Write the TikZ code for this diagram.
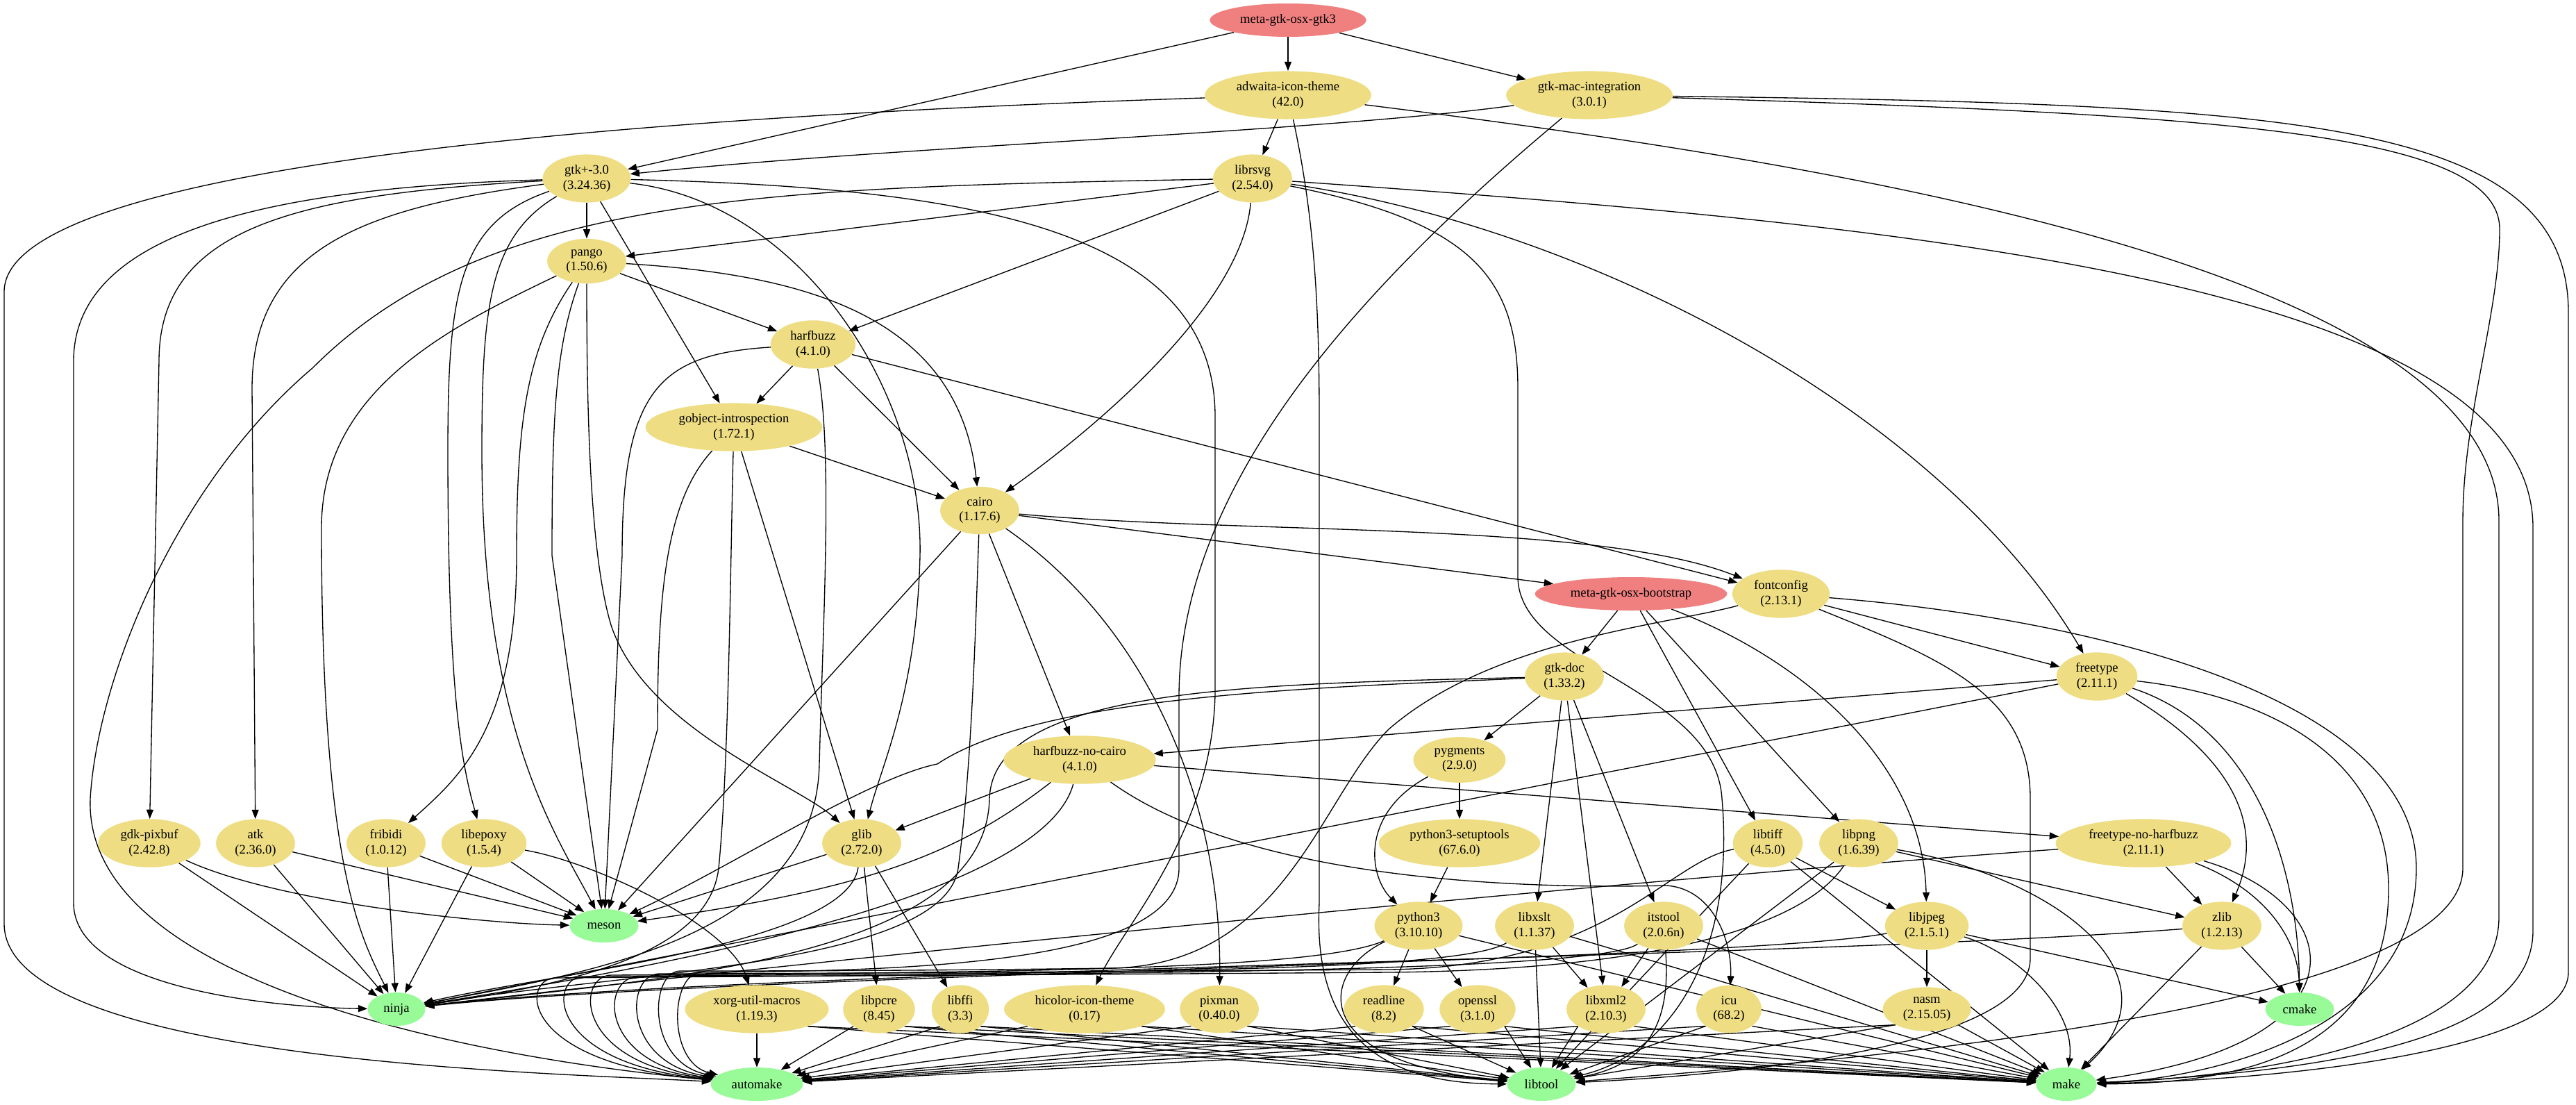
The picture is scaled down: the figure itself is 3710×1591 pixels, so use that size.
\documentclass[tikz,border=0pt]{standalone}
\usepackage{fontspec}
\setmainfont{Liberation Serif}
\usetikzlibrary{arrows.meta,shapes.geometric,backgrounds}
\definecolor{pkgyellow}{HTML}{EEDD82}
\definecolor{metared}{HTML}{F08080}
\definecolor{toolgreen}{HTML}{98FB98}

\begin{document}
\begin{tikzpicture}[
        x=0.75pt, y=-0.75pt,
        every node/.style={shape=ellipse, align=center, inner xsep=8pt, inner ysep=4pt, minimum width=54pt, minimum height=36pt, font=\fontsize{14}{16}\selectfont},
        pkg/.style={fill=pkgyellow},
        meta/.style={fill=metared},
        tool/.style={fill=toolgreen},
        dep/.style={draw=black, line width=1pt, -{Triangle[length=10pt,width=7.5pt]}}
    ]

        \useasboundingbox (0,0) rectangle (3710,1591);

        \node[meta] (metagtk) at (1855,29) {meta-gtk-osx-gtk3};
        \node[pkg] (adwaita) at (1855,137) {adwaita-icon-theme\\(42.0)};
        \node[pkg] (gtkmac) at (2289,137) {gtk-mac-integration\\(3.0.1)};
        \node[pkg] (gtk3) at (845,257) {gtk+-3.0\\(3.24.36)};
        \node[pkg] (librsvg) at (1804,257) {librsvg\\(2.54.0)};
        \node[pkg] (pango) at (845,376) {pango\\(1.50.6)};
        \node[pkg] (harfbuzz) at (1171,496) {harfbuzz\\(4.1.0)};
        \node[pkg] (gobject) at (1057,615) {gobject-introspection\\(1.72.1)};
        \node[pkg] (cairo) at (1411,735) {cairo\\(1.17.6)};
        \node[meta] (bootstrap) at (2349,855) {meta-gtk-osx-bootstrap};
        \node[pkg] (fontconfig) at (2565,855) {fontconfig\\(2.13.1)};
        \node[pkg] (gtkdoc) at (2253,974) {gtk-doc\\(1.33.2)};
        \node[pkg] (freetype) at (3020,974) {freetype\\(2.11.1)};
        \node[pkg] (harfbuzznc) at (1555,1094) {harfbuzz-no-cairo\\(4.1.0)};
        \node[pkg] (pygments) at (2102,1094) {pygments\\(2.9.0)};
        \node[pkg] (gdkpixbuf) at (215,1214) {gdk-pixbuf\\(2.42.8)};
        \node[pkg] (atk) at (368,1214) {atk\\(2.36.0)};
        \node[pkg] (fribidi) at (556,1214) {fribidi\\(1.0.12)};
        \node[pkg] (libepoxy) at (697,1214) {libepoxy\\(1.5.4)};
        \node[pkg] (glib) at (1241,1214) {glib\\(2.72.0)};
        \node[pkg] (setuptools) at (2102,1214) {python3-setuptools\\(67.6.0)};
        \node[pkg] (libtiff) at (2546,1214) {libtiff\\(4.5.0)};
        \node[pkg] (libpng) at (2677,1214) {libpng\\(1.6.39)};
        \node[pkg] (freetypenh) at (3087,1214) {freetype-no-harfbuzz\\(2.11.1)};
        \node[tool] (meson) at (870,1333) {meson};
        \node[pkg] (python3) at (2043,1333) {python3\\(3.10.10)};
        \node[pkg] (libxslt) at (2210,1333) {libxslt\\(1.1.37)};
        \node[pkg] (itstool) at (2396,1333) {itstool\\(2.0.6n)};
        \node[pkg] (libjpeg) at (2775,1333) {libjpeg\\(2.1.5.1)};
        \node[pkg] (zlib) at (3200,1333) {zlib\\(1.2.13)};
        \node[tool] (ninja) at (571,1453) {ninja};
        \node[pkg] (xorg) at (1090,1453) {xorg-util-macros\\(1.19.3)};
        \node[pkg] (libpcre) at (1266,1453) {libpcre\\(8.45)};
        \node[pkg] (libffi) at (1383,1453) {libffi\\(3.3)};
        \node[pkg] (hicolor) at (1562,1453) {hicolor-icon-theme\\(0.17)};
        \node[pkg] (pixman) at (1756,1453) {pixman\\(0.40.0)};
        \node[pkg] (readline) at (1993,1453) {readline\\(8.2)};
        \node[pkg] (openssl) at (2128,1453) {openssl\\(3.1.0)};
        \node[pkg] (libxml2) at (2313,1453) {libxml2\\(2.10.3)};
        \node[pkg] (icu) at (2490,1453) {icu\\(68.2)};
        \node[pkg] (nasm) at (2775,1453) {nasm\\(2.15.05)};
        \node[tool] (cmake) at (3312,1453) {cmake};
        \node[tool] (automake) at (1090,1561) {automake};
        \node[tool] (libtool) at (2220,1561) {libtool};
        \node[tool] (make) at (2976,1561) {make};

        \begin{scope}[on background layer]
        \fill[white] (0,0) rectangle (3710,1591);

        \draw[dep] (metagtk) -- (adwaita);
        \draw[dep] (metagtk) -- (gtkmac);
        \draw[dep] (metagtk) -- (gtk3);

        \draw[dep] (adwaita) -- (librsvg);
        \draw[dep] (adwaita) .. controls (700,175) and (6,260) .. (6,420) -- (6,1330) .. controls (6,1530) and (800,1545) .. (automake);
        \draw[dep] (adwaita) .. controls (1890,300) and (1900,420) .. (1900,600) -- (1900,1300) .. controls (1890,1500) and (2000,1560) .. (libtool);
        \draw[dep] (adwaita) .. controls (2600,230) and (3599,380) .. (3599,750) -- (3599,1320) .. controls (3599,1500) and (3250,1550) .. (make);

        \draw[dep] (gtkmac) .. controls (1900,190) and (1300,210) .. (gtk3);
        \draw[dep] (gtkmac) .. controls (1950,420) and (1700,700) .. (1698,1000) -- (1698,1250) .. controls (1698,1390) and (1300,1398) .. (1010,1400) .. controls (965,1400) and (960,1530) .. (automake);
        \draw[dep] (gtkmac) .. controls (3200,165) and (3600,190) .. (3600,330) .. controls (3600,450) and (3547,600) .. (3547,750) -- (3547,1250) .. controls (3547,1450) and (2700,1525) .. (libtool);
        \draw[dep] (gtkmac) .. controls (3300,150) and (3699,170) .. (3699,450) -- (3699,1400) .. controls (3699,1510) and (3300,1555) .. (make);

        \draw[dep] (gtk3) -- (pango);
        \draw[dep] (gtk3) -- (gobject);
        \draw[dep] (gtk3) .. controls (1150,290) and (1330,560) .. (1325,800) .. controls (1320,1000) and (1270,1100) .. (glib);
        \draw[dep] (gtk3) .. controls (420,280) and (229,330) .. (229,520) -- (gdkpixbuf);
        \draw[dep] (gtk3) .. controls (520,300) and (363,360) .. (363,560) -- (atk);
        \draw[dep] (gtk3) .. controls (660,320) and (645,420) .. (645,650) .. controls (645,1000) and (665,1100) .. (libepoxy);
        \draw[dep] (gtk3) .. controls (705,340) and (694,440) .. (694,650) .. controls (694,1050) and (800,1200) .. (meson);
        \draw[dep] (gtk3) .. controls (1400,270) and (1750,330) .. (1750,600) -- (1750,1000) .. controls (1745,1200) and (1620,1330) .. (hicolor);
        \draw[dep] (gtk3) .. controls (400,270) and (106,330) .. (106,520) -- (106,1300) .. controls (106,1420) and (380,1450) .. (ninja);

        \draw[dep] (librsvg) -- (pango);
        \draw[dep] (librsvg) -- (harfbuzz);
        \draw[dep] (librsvg) .. controls (1790,430) and (1600,600) .. (cairo);
        \draw[dep] (librsvg) .. controls (2300,330) and (2800,600) .. (freetype);
        \draw[dep] (librsvg) .. controls (1100,270) and (700,280) .. (450,530) .. controls (250,700) and (140,980) .. (130,1150) .. controls (120,1420) and (700,1525) .. (automake);
        \draw[dep] (librsvg) .. controls (2120,320) and (2186,400) .. (2186,560) -- (2186,830) .. controls (2186,960) and (2470,990) .. (2480,1150) .. controls (2500,1380) and (2400,1520) .. (libtool);
        \draw[dep] (librsvg) .. controls (2700,320) and (3648,400) .. (3648,760) -- (3648,1340) .. controls (3648,1510) and (3300,1545) .. (make);

        \draw[dep] (pango) -- (harfbuzz);
        \draw[dep] (pango) .. controls (1150,395) and (1380,450) .. (cairo);
        \draw[dep] (pango) .. controls (650,470) and (463,560) .. (463,760) .. controls (463,1250) and (520,1350) .. (ninja);
        \draw[dep] (pango) .. controls (760,500) and (744,600) .. (744,800) .. controls (744,1050) and (660,1120) .. (fribidi);
        \draw[dep] (pango) .. controls (800,500) and (795,600) .. (795,800) -- (meson);
        \draw[dep] (pango) .. controls (845,600) and (850,800) .. (880,900) .. controls (930,1050) and (1150,1130) .. (glib);

        \draw[dep] (harfbuzz) -- (gobject);
        \draw[dep] (harfbuzz) -- (cairo);
        \draw[dep] (harfbuzz) -- (fontconfig);
        \draw[dep] (harfbuzz) .. controls (950,510) and (896,560) .. (896,800) -- (meson);
        \draw[dep] (harfbuzz) .. controls (1200,650) and (1185,900) .. (1180,1100) .. controls (1175,1350) and (850,1400) .. (ninja);

        \draw[dep] (gobject) -- (cairo);
        \draw[dep] (gobject) -- (glib);
        \draw[dep] (gobject) .. controls (960,720) and (947,850) .. (947,1050) -- (meson);
        \draw[dep] (gobject) .. controls (1052,800) and (1050,1100) .. (1035,1250) .. controls (1020,1380) and (800,1420) .. (ninja);

        \draw[dep] (cairo) -- (harfbuzznc);
        \draw[dep] (cairo) -- (meson);
        \draw[dep] (cairo) -- (bootstrap);
        \draw[dep] (cairo) .. controls (1800,770) and (2300,750) .. (fontconfig);
        \draw[dep] (cairo) .. controls (1650,900) and (1760,1150) .. (pixman);
        \draw[dep] (cairo) .. controls (1405,900) and (1400,1100) .. (1380,1250) .. controls (1360,1390) and (900,1400) .. (ninja);

        \draw[dep] (bootstrap) -- (gtkdoc);
        \draw[dep] (bootstrap) -- (libtiff);
        \draw[dep] (bootstrap) -- (libpng);
        \draw[dep] (bootstrap) .. controls (2600,950) and (2770,1100) .. (libjpeg);

        \draw[dep] (fontconfig) -- (freetype);
        \draw[dep] (fontconfig) .. controls (2400,900) and (2150,920) .. (2000,1050) .. controls (1900,1150) and (1850,1390) .. (1600,1394) .. controls (1300,1398) and (1100,1398) .. (980,1398) .. controls (935,1398) and (930,1530) .. (automake);
        \draw[dep] (fontconfig) .. controls (2800,950) and (2924,1000) .. (2924,1150) -- (2924,1380) .. controls (2924,1500) and (2550,1545) .. (libtool);
        \draw[dep] (fontconfig) .. controls (3000,890) and (3480,1000) .. (3480,1250) .. controls (3480,1500) and (3150,1555) .. (make);

        \draw[dep] (gtkdoc) -- (pygments);
        \draw[dep] (gtkdoc) -- (libxslt);
        \draw[dep] (gtkdoc) -- (libxml2);
        \draw[dep] (gtkdoc) -- (itstool);
        \draw[dep] (gtkdoc) .. controls (1900,990) and (1500,1000) .. (1350,1100) .. controls (1250,1120) and (1050,1250) .. (meson);
        \draw[dep] (gtkdoc) .. controls (1800,985) and (1430,990) .. (1425,1150) .. controls (1420,1380) and (950,1410) .. (ninja);

        \draw[dep] (freetype) -- (harfbuzznc);
        \draw[dep] (freetype) .. controls (3150,1050) and (3280,1150) .. (zlib);
        \draw[dep] (freetype) .. controls (3250,1050) and (3310,1250) .. (cmake);
        \draw[dep] (freetype) .. controls (3250,1000) and (3440,1080) .. (3440,1280) .. controls (3440,1530) and (3200,1560) .. (make);
        \draw[dep] (freetype) -- (ninja);

        \draw[dep] (harfbuzznc) -- (glib);
        \draw[dep] (harfbuzznc) -- (freetypenh);
        \draw[dep] (harfbuzznc) .. controls (1800,1270) and (2200,1280) .. (2400,1275) .. controls (2470,1280) and (2495,1360) .. (icu);
        \draw[dep] (harfbuzznc) .. controls (1380,1230) and (1250,1280) .. (meson);
        \draw[dep] (harfbuzznc) .. controls (1500,1300) and (900,1400) .. (ninja);

        \draw[dep] (pygments) -- (setuptools);
        \draw[dep] (pygments) .. controls (1960,1170) and (1970,1260) .. (python3);
        \draw[dep] (setuptools) -- (python3);

        \draw[dep] (glib) -- (libpcre);
        \draw[dep] (glib) -- (libffi);
        \draw[dep] (glib) -- (meson);
        \draw[dep] (glib) .. controls (1220,1360) and (800,1400) .. (ninja);

        \draw[dep] (gdkpixbuf) .. controls (400,1300) and (700,1330) .. (meson);
        \draw[dep] (gdkpixbuf) -- (ninja);
        \draw[dep] (atk) -- (meson);
        \draw[dep] (atk) -- (ninja);
        \draw[dep] (fribidi) -- (meson);
        \draw[dep] (fribidi) -- (ninja);
        \draw[dep] (libepoxy) .. controls (850,1240) and (1050,1330) .. (xorg);
        \draw[dep] (libepoxy) -- (meson);
        \draw[dep] (libepoxy) -- (ninja);

        \draw[dep] (libtiff) -- (libjpeg);
        \draw[dep] (libtiff) .. controls (2400,1240) and (2320,1392) .. (2000,1396) .. controls (1400,1400) and (1100,1402) .. (950,1402) .. controls (900,1402) and (895,1530) .. (automake);
        \draw[dep] (libtiff) -- (libtool);
        \draw[dep] (libtiff) -- (make);

        \draw[dep] (libpng) -- (zlib);
        \draw[dep] (libpng) .. controls (2600,1330) and (2400,1396) .. (2000,1400) .. controls (1400,1404) and (1100,1406) .. (920,1406) .. controls (865,1406) and (860,1530) .. (automake);
        \draw[dep] (libpng) -- (libtool);
        \draw[dep] (libpng) .. controls (2950,1260) and (3150,1400) .. (make);

        \draw[dep] (freetypenh) -- (zlib);
        \draw[dep] (freetypenh) .. controls (3260,1280) and (3310,1350) .. (cmake);
        \draw[dep] (freetypenh) .. controls (3380,1300) and (3420,1500) .. (make);
        \draw[dep] (freetypenh) .. controls (2300,1270) and (1200,1380) .. (ninja);

        \draw[dep] (python3) -- (readline);
        \draw[dep] (python3) -- (openssl);
        \draw[dep] (python3) .. controls (1900,1395) and (1500,1400) .. (880,1404) .. controls (830,1405) and (825,1530) .. (automake);
        \draw[dep] (python3) .. controls (1900,1400) and (1880,1530) .. (libtool);
        \draw[dep] (python3) -- (make);

        \draw[dep] (libxslt) -- (libxml2);
        \draw[dep] (libxslt) .. controls (2100,1400) and (1600,1400) .. (840,1406) .. controls (790,1407) and (785,1530) .. (automake);
        \draw[dep] (libxslt) -- (libtool);
        \draw[dep] (libxslt) -- (make);

        \draw[dep] (itstool) -- (libxml2);
        \draw[dep] (itstool) .. controls (2300,1400) and (1600,1402) .. (800,1408) .. controls (750,1409) and (745,1530) .. (automake);
        \draw[dep] (itstool) .. controls (2405,1450) and (2390,1530) .. (libtool);
        \draw[dep] (itstool) -- (make);

        \draw[dep] (libjpeg) -- (nasm);
        \draw[dep] (libjpeg) -- (cmake);
        \draw[dep] (libjpeg) .. controls (2900,1370) and (2990,1450) .. (make);
        \draw[dep] (libjpeg) .. controls (2500,1385) and (1100,1400) .. (ninja);

        \draw[dep] (zlib) -- (cmake);
        \draw[dep] (zlib) -- (make);
        \draw[dep] (zlib) .. controls (2600,1380) and (1100,1395) .. (ninja);

        \draw[dep] (xorg) -- (automake);
        \draw[dep] (xorg.south east) -- (libtool);
        \draw[dep] (xorg.south east) -- (make);
        \draw[dep] (libpcre.south west) -- (automake);
        \draw[dep] (libpcre.south east) -- (libtool);
        \draw[dep] (libpcre.south east) -- (make);
        \draw[dep] (libffi.south west) -- (automake);
        \draw[dep] (libffi.south east) -- (libtool);
        \draw[dep] (libffi.south east) -- (make);
        \draw[dep] (hicolor.south west) -- (automake);
        \draw[dep] (hicolor.south east) -- (libtool);
        \draw[dep] (hicolor.south east) -- (make);
        \draw[dep] (pixman.south west) -- (automake);
        \draw[dep] (pixman.south east) -- (libtool);
        \draw[dep] (pixman.south east) -- (make);
        \draw[dep] (readline.south west) -- (automake);
        \draw[dep] (readline.south east) -- (libtool);
        \draw[dep] (readline.south east) -- (make);
        \draw[dep] (openssl.south west) -- (automake);
        \draw[dep] (openssl.south east) -- (libtool);
        \draw[dep] (openssl.south east) -- (make);
        \draw[dep] (libxml2.south west) -- (automake);
        \draw[dep] (libxml2.south west) -- (libtool);
        \draw[dep] (libxml2.south east) -- (make);
        \draw[dep] (icu.south west) -- (automake);
        \draw[dep] (icu.south west) -- (libtool);
        \draw[dep] (icu.south east) -- (make);
        \draw[dep] (nasm.south west) -- (automake);
        \draw[dep] (nasm.south west) -- (libtool);
        \draw[dep] (nasm.south east) -- (make);
        \end{scope}

    \end{tikzpicture}
\end{document}
